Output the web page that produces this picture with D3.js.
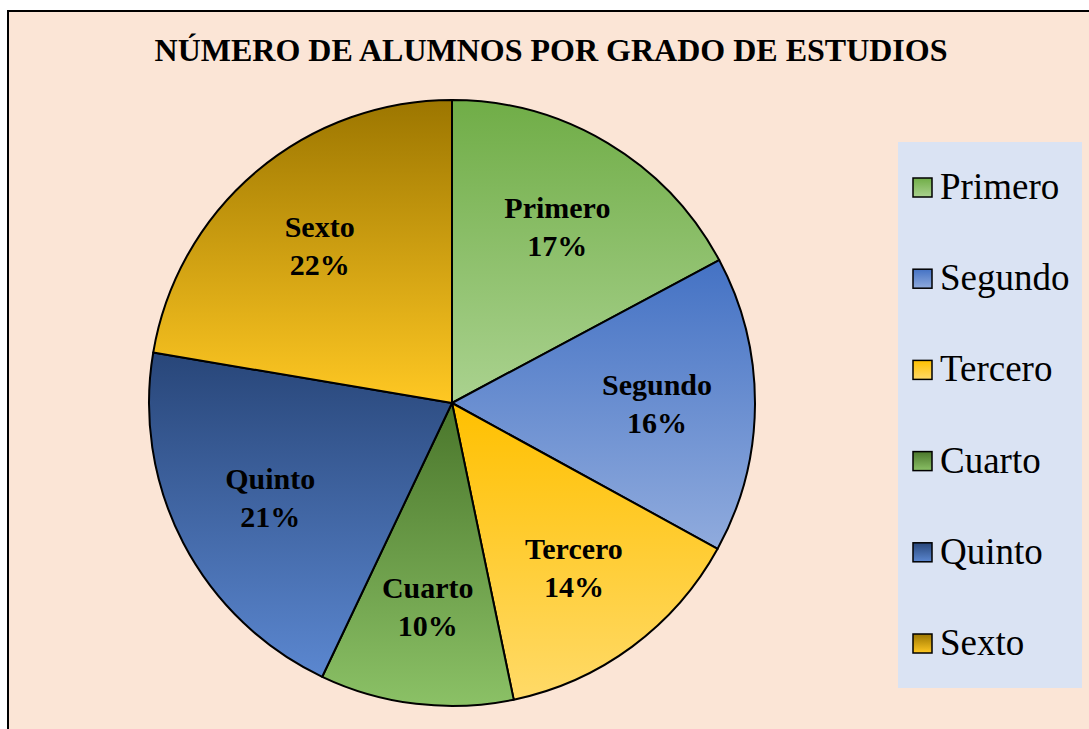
<!DOCTYPE html>
<html>
<head>
<meta charset="utf-8">
<script src="https://cdn.jsdelivr.net/npm/d3@7"></script>
<style>
  body { margin: 0; background: #fff; }
  text { font-family: "Liberation Serif", "Times New Roman", serif; }
</style>
</head>
<body>
<script>
const width = 1089;
const height = 729;

const grados = ["Primero", "Segundo", "Tercero", "Cuarto", "Quinto", "Sexto"];
const alumnos = [50, 46, 40, 30, 60, 65];
const colorTop = ["#70ad47", "#4472c4", "#ffc000", "#4a762b", "#284679", "#9c7600"];
const colorBottom = ["#aad28f", "#90abdd", "#ffda68", "#8bc166", "#5b87d0", "#ffc823"];

const cx = 452, cy = 403, radius = 303;
const labelRadius = 205;

const svg = d3.select("body")
    .append("svg")
    .attr("width", width)
    .attr("height", height);

// chart background + border (clipped at right/bottom edge like the source)
svg.append("rect")
    .attr("x", 8)
    .attr("y", 11)
    .attr("width", width + 20)
    .attr("height", height + 20)
    .attr("fill", "#fbe5d6")
    .attr("stroke", "black")
    .attr("stroke-width", 2);

svg.append("text")
    .attr("x", 551)
    .attr("y", 61)
    .attr("text-anchor", "middle")
    .attr("font-size", 32)
    .attr("font-weight", "bold")
    .text("NÚMERO DE ALUMNOS POR GRADO DE ESTUDIOS");

const defs = svg.append("defs");
grados.forEach((g, i) => {
  const lg = defs.append("linearGradient")
      .attr("id", "grad" + i)
      .attr("x1", 0).attr("y1", 0)
      .attr("x2", 0).attr("y2", 1);
  lg.append("stop").attr("offset", "0%").attr("stop-color", colorTop[i]);
  lg.append("stop").attr("offset", "100%").attr("stop-color", colorBottom[i]);
});

const total = d3.sum(alumnos);
const pie = d3.pie().sort(null).value(d => d);
const arcs = pie(alumnos);
const arc = d3.arc().innerRadius(0).outerRadius(radius);
const labelArc = d3.arc().innerRadius(labelRadius).outerRadius(labelRadius);

const pieG = svg.append("g")
    .attr("transform", `translate(${cx},${cy})`);

pieG.selectAll("path")
    .data(arcs)
    .join("path")
    .attr("d", arc)
    .attr("fill", (d, i) => `url(#grad${i})`)
    .attr("stroke", "black")
    .attr("stroke-width", 2)
    .attr("stroke-linejoin", "round");

const labels = pieG.selectAll("g.lbl")
    .data(arcs)
    .join("g")
    .attr("class", "lbl")
    .attr("transform", d => `translate(${labelArc.centroid(d)})`);

labels.append("text")
    .attr("text-anchor", "middle")
    .attr("y", -9)
    .attr("font-size", 30)
    .attr("font-weight", "bold")
    .text((d, i) => grados[i]);

labels.append("text")
    .attr("text-anchor", "middle")
    .attr("y", 29)
    .attr("font-size", 30)
    .attr("font-weight", "bold")
    .text(d => Math.round(d.value / total * 100) + "%");

// legend
const legend = svg.append("g");
legend.append("rect")
    .attr("x", 898)
    .attr("y", 142)
    .attr("width", 184)
    .attr("height", 546)
    .attr("fill", "#dae3f3");

const ly = d3.scalePoint()
    .domain(grados)
    .range([187, 643]);

const items = legend.selectAll("g.item")
    .data(grados)
    .join("g")
    .attr("class", "item")
    .attr("transform", d => `translate(913,${ly(d)})`);

items.append("rect")
    .attr("x", 0)
    .attr("y", -9)
    .attr("width", 19)
    .attr("height", 19)
    .attr("fill", (d, i) => `url(#grad${i})`)
    .attr("stroke", "black")
    .attr("stroke-width", 1.5);

items.append("text")
    .attr("x", 27)
    .attr("y", 12)
    .attr("font-size", 37)
    .text(d => d);
</script>
</body>
</html>
